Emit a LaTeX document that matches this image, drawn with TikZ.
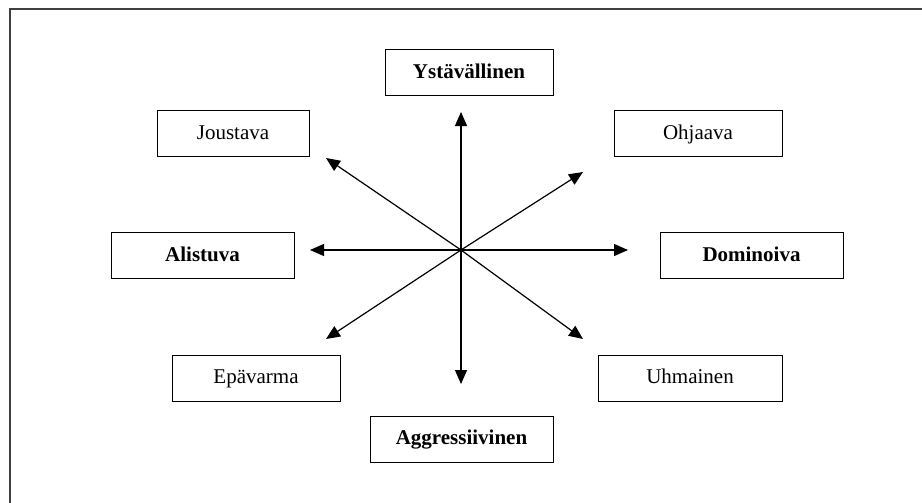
\documentclass[tikz,border=0pt]{standalone}
\usepackage{fontspec}
\setmainfont{Liberation Serif}
\usetikzlibrary{arrows.meta}

\begin{document}
\begin{tikzpicture}[
    x=0.5pt, y=-0.5pt,
    box/.style={draw, line width=0.5pt, minimum height=23pt, inner sep=0pt,
                text height=8pt, text depth=2.5pt,
                font=\fontsize{10.5}{12}\selectfont},
    keybox/.style={box, font=\fontsize{10.5}{12}\selectfont\bfseries},
    ax/.style={-{Triangle[length=7pt,width=6pt]}, line width=0.6pt}
]
\useasboundingbox (0,0) rectangle (922,503);

% outer frame (runs off the right and bottom edge)
\draw[line width=0.7pt, black!75] (10,503) -- (10,9) -- (922,9);

% main axes (bold)
\node[keybox, minimum width=84pt] (ysta) at (469,72.5)   {Ystävällinen};
\node[keybox, minimum width=91.5pt] (alis) at (202.5,255.5) {Alistuva};
\node[keybox, minimum width=91.5pt] (domi) at (751.5,255.5) {Dominoiva};
\node[keybox, minimum width=91.5pt] (aggr) at (461.5,439)   {Aggressiivinen};

% diagonals
\node[box, minimum width=76pt] (jous) at (233,133.5) {Joustava};
\node[box, minimum width=84pt] (ohja) at (698,133.5) {Ohjaava};
\node[box, minimum width=84pt] (epav) at (256,378)   {Epävarma};
\node[box, minimum width=92pt] (uhma) at (690,378)   {Uhmainen};

% centre and arrow tips
\coordinate (c)  at (461,250);
\coordinate (tN) at (461,112);
\coordinate (tS) at (461,384);
\coordinate (tW) at (310,250);
\coordinate (tE) at (628,250);
\coordinate (tNW) at (326,158);
\coordinate (tNE) at (583,172);
\coordinate (tSW) at (326,339);
\coordinate (tSE) at (583,339);

\foreach \t in {tN,tS,tW,tE,tNW,tNE,tSW,tSE}
    \draw[ax] (c) -- (\t);

\end{tikzpicture}
\end{document}
